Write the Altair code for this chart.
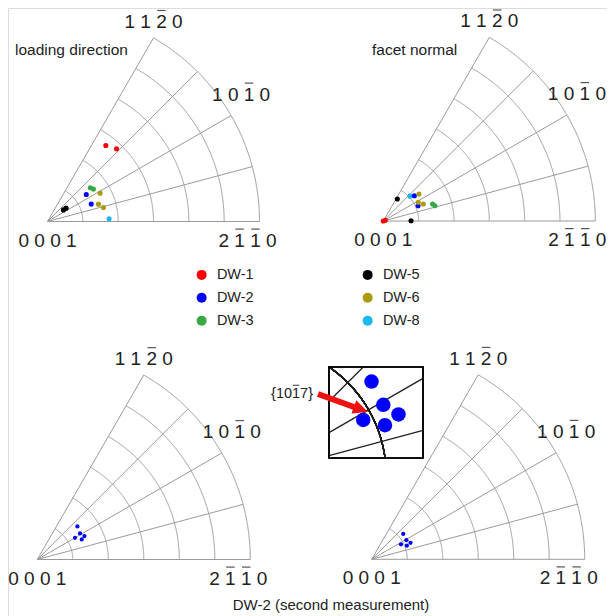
import numpy as np
import pandas as pd
import altair as alt

# ---------------- data ----------------
series_names = ["DW-1", "DW-2", "DW-3", "DW-5", "DW-6", "DW-8"]
series_colors = ["#ff0000", "#0000ff", "#37a844", "#000000", "#a99a10", "#1bb8ef"]

# r = fraction of the triangle radius, ang = degrees from the 2-1-10 edge
ld_series = ["DW-1", "DW-1", "DW-2", "DW-2", "DW-3", "DW-3",
             "DW-5", "DW-5", "DW-6", "DW-6", "DW-6", "DW-8"]
ld_r = [0.452, 0.473, 0.223, 0.222, 0.257, 0.265, 0.093, 0.108, 0.282, 0.254, 0.272, 0.291]
ld_ang = [52.5, 46.5, 34.9, 21.7, 38.3, 35.2, 36.0, 35.6, 28.3, 18.8, 14.0, 2.5]

fn_series = ["DW-1", "DW-1", "DW-5", "DW-5", "DW-8", "DW-2",
             "DW-2", "DW-6", "DW-6", "DW-6", "DW-3", "DW-3"]
fn_r = [0.0, 0.01, 0.123, 0.131, 0.172, 0.189, 0.179, 0.211, 0.187, 0.205, 0.246, 0.254]
fn_ang = [0.0, 20.0, 57.5, 0.5, 43.0, 39.2, 23.8, 37.1, 28.1, 23.0, 19.0, 16.5]

ld2_series = ["DW-2"] * 5
ld2_r = [0.244, 0.235, 0.204, 0.229, 0.247]
ld2_ang = [39.5, 31.4, 29.9, 24.3, 26.4]

fn2_series = ["DW-2"] * 5
fn2_r = [0.190, 0.186, 0.1545, 0.177, 0.198]
fn2_ang = [38.8, 28.8, 27.1, 21.1, 23.0]

grid_r = [1 / 6, 2 / 6, 3 / 6, 4 / 6, 5 / 6, 1.0]
grid_ang = [0, 15, 30, 45, 60]

# Miller-Bravais pole labels; pole_bars = indices of digits carrying an overbar
pole_labels = ["0001", "2110", "1010", "1120"]
pole_bars = [[], [1, 2], [2], [2]]
pole_r = [0.0, 1.0, 1.0, 1.0]
pole_ang = [0.0, 0.0, 30.0, 60.0]

panel_titles = ["loading direction", "facet normal"]
caption = ["DW-2 (second measurement)"]
inset_label = "{1017}"
inset_label_bars = [3]

# ---------------- layout (page pixels) ----------------
W, H = 599, 608
PX, PY = 8, 8
PANELS = {"ld": (47.5, 221.5, 212.0), "fn": (383.3, 221.0, 212.0),
          "ld2": (37.3, 559.5, 213.0), "fn2": (371.7, 559.3, 213.0)}
POLE_OFFSETS = [(0, 19), (-12, 19), (10, -21), (0, -16)]
POLE_NUDGE = {("fn", 1): (-6, 0), ("fn2", 1): (-4, 0)}   # keep right-edge labels inside the page
POLE_FS = 19
TITLE_POS = [(15, 50), (372, 50)]
CAPTION_POS = (331, 605)
INSET_BOX = (329, 367, 423, 458)
INSET_FOCUS = (380.3, 409.2)
INSET_MAG = 3.7
ARROW_TAIL = (318, 394)
ARROW_TIP = (368, 412)
INSET_LABEL_POS = (313, 394)
INSET_LABEL_FS = 14.5
FONT = "Liberation Sans"
CHAR_W = {" ": 0.278, "{": 0.334, "}": 0.334}  # em widths (Arial metrics), digits 0.556


def cw(ch):
    return CHAR_W.get(ch, 0.556)


def overbars(text, bars, cx, cy, fs, align="center"):
    """Overbar segments above the chosen characters of a text drawn at (cx, cy)."""
    total = sum(cw(c) for c in text) * fs
    left = cx - total / 2 if align == "center" else cx - total
    out = []
    pos = left
    for i, ch in enumerate(text):
        w = cw(ch) * fs
        if i in bars:
            out.append({"x": pos + 0.1 * w, "x2": pos + 0.9 * w,
                        "y": cy - 0.6 * fs, "y2": cy - 0.6 * fs})
        pos += w
    return out


def polar(panel, r, ang):
    ox, oy, R = PANELS[panel]
    a = np.radians(np.asarray(ang, dtype=float))
    r = np.asarray(r, dtype=float)
    return ox + R * r * np.cos(a), oy - R * r * np.sin(a)


# points
frames = []
for panel, ser, rr, aa in [("ld", ld_series, ld_r, ld_ang), ("fn", fn_series, fn_r, fn_ang),
                           ("ld2", ld2_series, ld2_r, ld2_ang), ("fn2", fn2_series, fn2_r, fn2_ang)]:
    x, y = polar(panel, rr, aa)
    frames.append(pd.DataFrame({"x": x, "y": y, "series": ser, "panel": panel}))
pts = pd.concat(frames, ignore_index=True)

# grid lines of the four triangles
g = []
for panel in PANELS:
    for k, rr in enumerate(grid_r):
        aa = np.linspace(0, 60, 241)
        x, y = polar(panel, np.full_like(aa, rr), aa)
        g.append(pd.DataFrame({"x": x, "y": y, "seg": f"{panel}-a{k}", "o": np.arange(len(aa))}))
    for k, aa in enumerate(grid_ang):
        x, y = polar(panel, [0.0, 1.0], [aa, aa])
        g.append(pd.DataFrame({"x": x, "y": y, "seg": f"{panel}-r{k}", "o": [0, 1]}))
grid = pd.concat(g, ignore_index=True)

# pole labels (spaced digits) and their overbars
pl, bars = [], []
for panel in PANELS:
    x, y = polar(panel, pole_r, pole_ang)
    for i, lab in enumerate(pole_labels):
        spaced = " ".join(lab)
        nx, ny = POLE_NUDGE.get((panel, i), (0, 0))
        lx, ly = x[i] + POLE_OFFSETS[i][0] + nx, y[i] + POLE_OFFSETS[i][1] + ny
        pl.append({"x": lx, "y": ly, "label": spaced})
        bars += overbars(spaced, [2 * b for b in pole_bars[i]], lx, ly, POLE_FS)
poles = pd.DataFrame(pl)

titles = pd.DataFrame({"x": [p[0] for p in TITLE_POS], "y": [p[1] for p in TITLE_POS], "label": panel_titles})
cap = pd.DataFrame({"x": [CAPTION_POS[0]], "y": [CAPTION_POS[1]], "label": caption})

# inset: magnified view of the DW-2 cluster in the lower-right triangle
fx = pts.loc[pts.panel == "fn2", "x"].mean()
fy = pts.loc[pts.panel == "fn2", "y"].mean()


def to_inset(x, y):
    return INSET_FOCUS[0] + INSET_MAG * (np.asarray(x) - fx), INSET_FOCUS[1] + INSET_MAG * (np.asarray(y) - fy)


def clip_seg(x1, y1, x2, y2, box):
    xmin, ymin, xmax, ymax = box
    dx, dy = x2 - x1, y2 - y1
    u1, u2 = 0.0, 1.0
    for p, q in ((-dx, x1 - xmin), (dx, xmax - x1), (-dy, y1 - ymin), (dy, ymax - y1)):
        if p == 0:
            if q < 0:
                return None
        else:
            t = q / p
            if p < 0:
                u1 = max(u1, t)
            else:
                u2 = min(u2, t)
    if u1 > u2:
        return None
    return (x1 + u1 * dx, y1 + u1 * dy, x1 + u2 * dx, y1 + u2 * dy)


segs = []
polys = []
for rr in grid_r:
    aa = np.linspace(0, 60, 3001)
    polys.append(polar("fn2", np.full_like(aa, rr), aa))
for aa in grid_ang:
    polys.append(polar("fn2", [0.0, 1.0], [aa, aa]))
for xs_, ys_ in polys:
    ix, iy = to_inset(xs_, ys_)
    for j in range(len(ix) - 1):
        c = clip_seg(ix[j], iy[j], ix[j + 1], iy[j + 1], INSET_BOX)
        if c is not None:
            segs.append({"x": c[0], "y": c[1], "x2": c[2], "y2": c[3]})
inset_grid = pd.DataFrame(segs)

ipx, ipy = to_inset(pts.loc[pts.panel == "fn2", "x"], pts.loc[pts.panel == "fn2", "y"])
inset_pts = pd.DataFrame({"x": ipx, "y": ipy, "series": pts.loc[pts.panel == "fn2", "series"].values})

box = pd.DataFrame({"x": [INSET_BOX[0]], "y": [INSET_BOX[1]], "x2": [INSET_BOX[2]], "y2": [INSET_BOX[3]]})

# arrow
vx, vy = ARROW_TIP[0] - ARROW_TAIL[0], ARROW_TIP[1] - ARROW_TAIL[1]
L = np.hypot(vx, vy)
ux, uy = vx / L, vy / L
HEAD = 15.0
head_c = (ARROW_TIP[0] - ux * HEAD / 2, ARROW_TIP[1] - uy * HEAD / 2)
arrow_body = pd.DataFrame({"x": [ARROW_TAIL[0]], "y": [ARROW_TAIL[1]], "x2": [head_c[0]], "y2": [head_c[1]]})
arrow_head = pd.DataFrame({"x": [head_c[0]], "y": [head_c[1]]})
arrow_angle = float(np.degrees(np.arctan2(vy, vx)))
ilab = pd.DataFrame({"x": [INSET_LABEL_POS[0]], "y": [INSET_LABEL_POS[1]], "label": [inset_label]})
bars += overbars(inset_label, inset_label_bars, INSET_LABEL_POS[0], INSET_LABEL_POS[1],
                 INSET_LABEL_FS, align="right")
bars_df = pd.DataFrame(bars)

# ---------------- chart ----------------
xs = alt.Scale(domain=[PX, PX + W], nice=False, zero=False)
ys = alt.Scale(domain=[PY, PY + H], nice=False, zero=False, reverse=True)
X = alt.X("x:Q", scale=xs, axis=None)
Y = alt.Y("y:Q", scale=ys, axis=None)

color = alt.Color(
    "series:N",
    scale=alt.Scale(domain=series_names, range=series_colors),
    legend=alt.Legend(orient="none", legendX=186.4, legendY=259.5, columns=2, title=None,
                      symbolType="circle", symbolSize=100, symbolStrokeWidth=0, symbolOpacity=1,
                      labelFontSize=14.5, labelFont=FONT, labelColor="#222", labelOffset=8,
                      rowPadding=8, columnPadding=106, padding=0),
)

grid_layer = alt.Chart(grid).mark_line(color="#9a9a9a", strokeWidth=1).encode(
    x=X, y=Y, detail="seg:N", order="o:Q")

top_pts = alt.Chart(pts).transform_filter(
    alt.FieldOneOfPredicate(field="panel", oneOf=["ld", "fn"])
).mark_circle(size=26, opacity=1).encode(x=X, y=Y, color=color)
bot_pts = alt.Chart(pts).transform_filter(
    alt.FieldOneOfPredicate(field="panel", oneOf=["ld2", "fn2"])
).mark_circle(size=18, opacity=1).encode(x=X, y=Y, color=color)

pole_layer = alt.Chart(poles).mark_text(font=FONT, fontSize=POLE_FS, color="#222", align="center",
                                        baseline="middle").encode(x=X, y=Y, text="label:N")
bar_layer = alt.Chart(bars_df).mark_rule(color="#555", strokeWidth=1.2).encode(
    x=X, y=Y, x2="x2:Q", y2="y2:Q")
title_layer = alt.Chart(titles).mark_text(font=FONT, fontSize=15.5, color="#222", align="left",
                                          baseline="middle").encode(x=X, y=Y, text="label:N")
cap_layer = alt.Chart(cap).mark_text(font=FONT, fontSize=15, color="#222", align="center",
                                     baseline="middle").encode(x=X, y=Y, text="label:N")

box_layer = alt.Chart(box).mark_rect(fill="white", stroke="black", strokeWidth=1.6).encode(
    x=X, y=Y, x2="x2:Q", y2="y2:Q")
inset_grid_layer = alt.Chart(inset_grid).mark_rule(color="#222", strokeWidth=1.3, strokeCap="round").encode(
    x=X, y=Y, x2="x2:Q", y2="y2:Q")
inset_pts_layer = alt.Chart(inset_pts).mark_circle(size=210, opacity=1).encode(x=X, y=Y, color=color)
box_edge = alt.Chart(box).mark_rect(fill=None, fillOpacity=0, stroke="black", strokeWidth=1.6).encode(
    x=X, y=Y, x2="x2:Q", y2="y2:Q")

arrow_body_layer = alt.Chart(arrow_body).mark_rule(color="#ee1111", strokeWidth=6).encode(
    x=X, y=Y, x2="x2:Q", y2="y2:Q")
arrow_head_layer = alt.Chart(arrow_head).mark_point(
    shape="M -1 -0.95 L 1 0 L -1 0.95 Z", filled=True, color="#ee1111", opacity=1,
    size=HEAD * HEAD, angle=arrow_angle % 360).encode(x=X, y=Y)
ilab_layer = alt.Chart(ilab).mark_text(font=FONT, fontSize=INSET_LABEL_FS, color="#222", align="right",
                                       baseline="middle").encode(x=X, y=Y, text="label:N")

chart = alt.layer(
    grid_layer, top_pts, bot_pts, pole_layer, bar_layer, title_layer, cap_layer,
    box_layer, inset_grid_layer, inset_pts_layer, box_edge,
    arrow_body_layer, arrow_head_layer, ilab_layer,
).properties(
    width=W, height=H, autosize=alt.AutoSizeParams(type="none"), padding=0
).configure_view(stroke=None).configure(background="white")

chart.save("out.html", embed_options={"renderer": "svg", "actions": False})
